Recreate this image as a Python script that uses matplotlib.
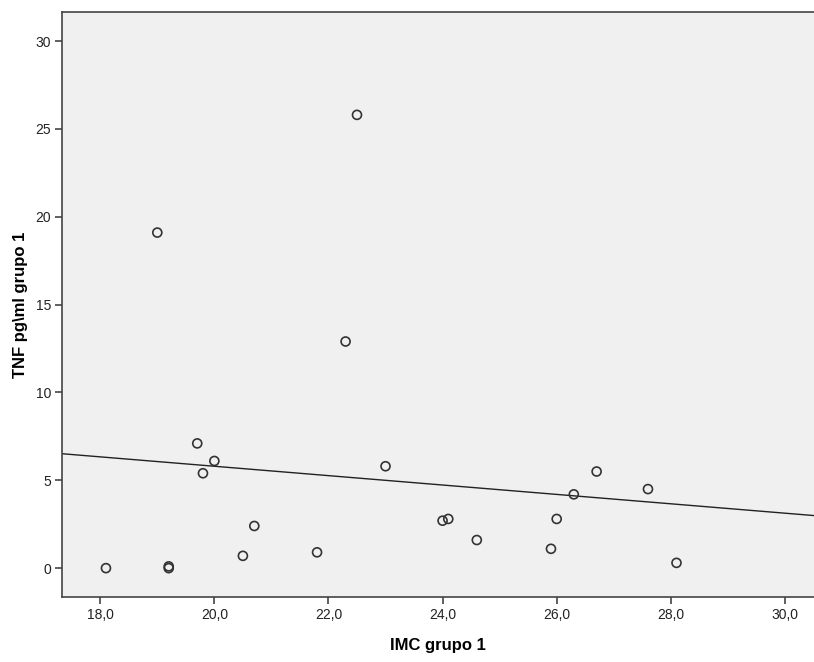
import numpy as np
import matplotlib.pyplot as plt
from matplotlib.ticker import FuncFormatter

plt.rcParams['font.family'] = ['Liberation Sans', 'DejaVu Sans']

# IMC grupo 1 vs TNF pg\ml grupo 1
imc = [18.1, 19.2, 19.2, 20.5, 21.8, 20.7, 19.7, 20.0, 19.8, 19.0, 22.5,
       22.3, 23.0, 24.0, 24.1, 24.6, 25.9, 26.0, 26.3, 26.7, 27.6, 28.1]
tnf = [0.0, 0.0, 0.1, 0.7, 0.9, 2.4, 7.1, 6.1, 5.4, 19.1, 25.8,
       12.9, 5.8, 2.7, 2.8, 1.6, 1.1, 2.8, 4.2, 5.5, 4.5, 0.3]

x = np.array(imc)
y = np.array(tnf)
b, a = np.polyfit(x, y, 1)  # linea de ajuste total

fig = plt.figure(figsize=(8.14, 6.62), dpi=100)
ax = fig.add_axes([0.0762, 0.098, 0.9238, 0.884])
ax.set_facecolor('#f0f0f0')

xmin, xmax = 17.33, 30.51
ax.scatter(x, y, s=42, facecolors='none', edgecolors='#333333', linewidths=1.2, zorder=3)
xl = np.array([xmin, xmax])
ax.plot(xl, a + b * xl, color='#222222', lw=1.0, zorder=2)

ax.set_xlim(xmin, xmax)
ax.set_ylim(-1.65, 31.66)
ax.set_xticks([18, 20, 22, 24, 26, 28, 30])
ax.set_yticks([0, 5, 10, 15, 20, 25, 30])
ax.xaxis.set_major_formatter(FuncFormatter(lambda v, p: f'{v:.1f}'.replace('.', ',')))
ax.tick_params(direction='out', length=5, width=1.2, color='#444444', labelsize=10,
               labelcolor='#222222', pad=3)
for s in ax.spines.values():
    s.set_color('#444444')
    s.set_linewidth(1.2)
ax.spines['right'].set_visible(False)

ax.set_xlabel('IMC grupo 1', fontsize=12, fontweight='bold', labelpad=11)
ax.set_ylabel('TNF pg\\ml grupo 1', fontsize=12, fontweight='bold', labelpad=5)

fig.savefig('out.png', dpi=100)
